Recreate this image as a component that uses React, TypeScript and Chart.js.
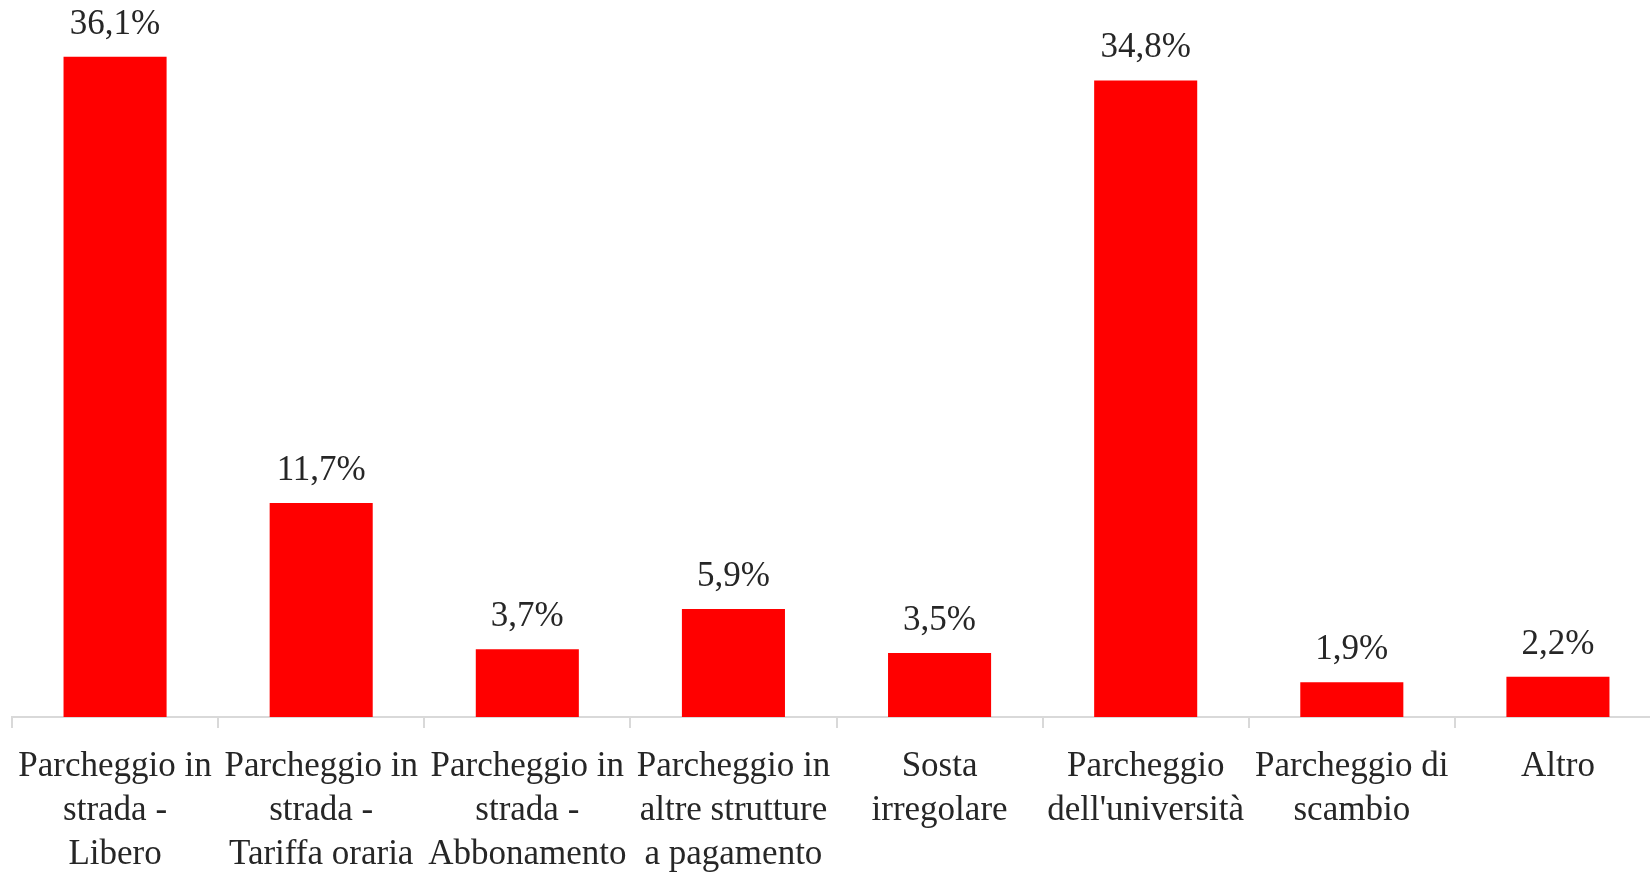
import React, { useEffect, useRef } from "react";
import { Chart, registerables } from "chart.js";

Chart.register(...registerables);

const categories: string[][] = [
  ["Parcheggio in", "strada -", "Libero"],
  ["Parcheggio in", "strada -", "Tariffa oraria"],
  ["Parcheggio in", "strada -", "Abbonamento"],
  ["Parcheggio in", "altre strutture", "a pagamento"],
  ["Sosta", "irregolare"],
  ["Parcheggio", "dell'università"],
  ["Parcheggio di", "scambio"],
  ["Altro"],
];

const values: number[] = [36.1, 11.7, 3.7, 5.9, 3.5, 34.8, 1.9, 2.2];

const FONT = "'Liberation Serif', 'Times New Roman', serif";
const TEXT_COLOR = "#262626";

const valueLabelPlugin = {
  id: "valueLabels",
  afterDatasetsDraw(chart: any) {
    const ctx = chart.ctx;
    const meta = chart.getDatasetMeta(0);
    ctx.save();
    ctx.font = `35px ${FONT}`;
    ctx.fillStyle = TEXT_COLOR;
    ctx.textAlign = "center";
    ctx.textBaseline = "alphabetic";
    meta.data.forEach((bar: any, i: number) => {
      const txt = values[i].toFixed(1).replace(".", ",") + "%";
      ctx.fillText(txt, bar.x, bar.y - 23);
    });
    ctx.restore();
  },
};

export default function App() {
  const ref = useRef<HTMLCanvasElement>(null);

  useEffect(() => {
    if (!ref.current) return;
    const chart = new Chart(ref.current, {
      type: "bar",
      data: {
        labels: categories,
        datasets: [
          {
            data: values,
            backgroundColor: "#ff0000",
            borderWidth: 0,
            categoryPercentage: 1,
            barPercentage: 0.5,
          },
        ],
      },
      options: {
        responsive: false,
        animation: false,
        devicePixelRatio: 1,
        layout: { padding: { left: 12, right: 1, top: 0, bottom: 0 } },
        plugins: {
          legend: { display: false },
          tooltip: { enabled: false },
        },
        scales: {
          x: {
            offset: true,
            grid: {
              offset: true,
              drawOnChartArea: false,
              drawTicks: true,
              tickLength: 11,
              color: "#d9d9d9",
              lineWidth: 2,
            },
            border: { display: true, color: "#d9d9d9", width: 2 },
            ticks: {
              autoSkip: false,
              maxRotation: 0,
              minRotation: 0,
              padding: 17,
              color: TEXT_COLOR,
              font: { family: FONT, size: 35, lineHeight: 44 / 35 },
            },
            afterFit(scale: any) {
              scale.height = 156;
            },
          },
          y: {
            display: false,
            min: 0,
            max: 39.2,
          },
        },
      },
      plugins: [valueLabelPlugin],
    });
    return () => chart.destroy();
  }, []);

  return (
    <div
      style={{
        position: "fixed",
        left: 0,
        top: 0,
        width: 1650,
        height: 873,
        overflow: "hidden",
        background: "#ffffff",
      }}
    >
      <canvas ref={ref} width={1662} height={873} style={{ display: "block" }} />
    </div>
  );
}
